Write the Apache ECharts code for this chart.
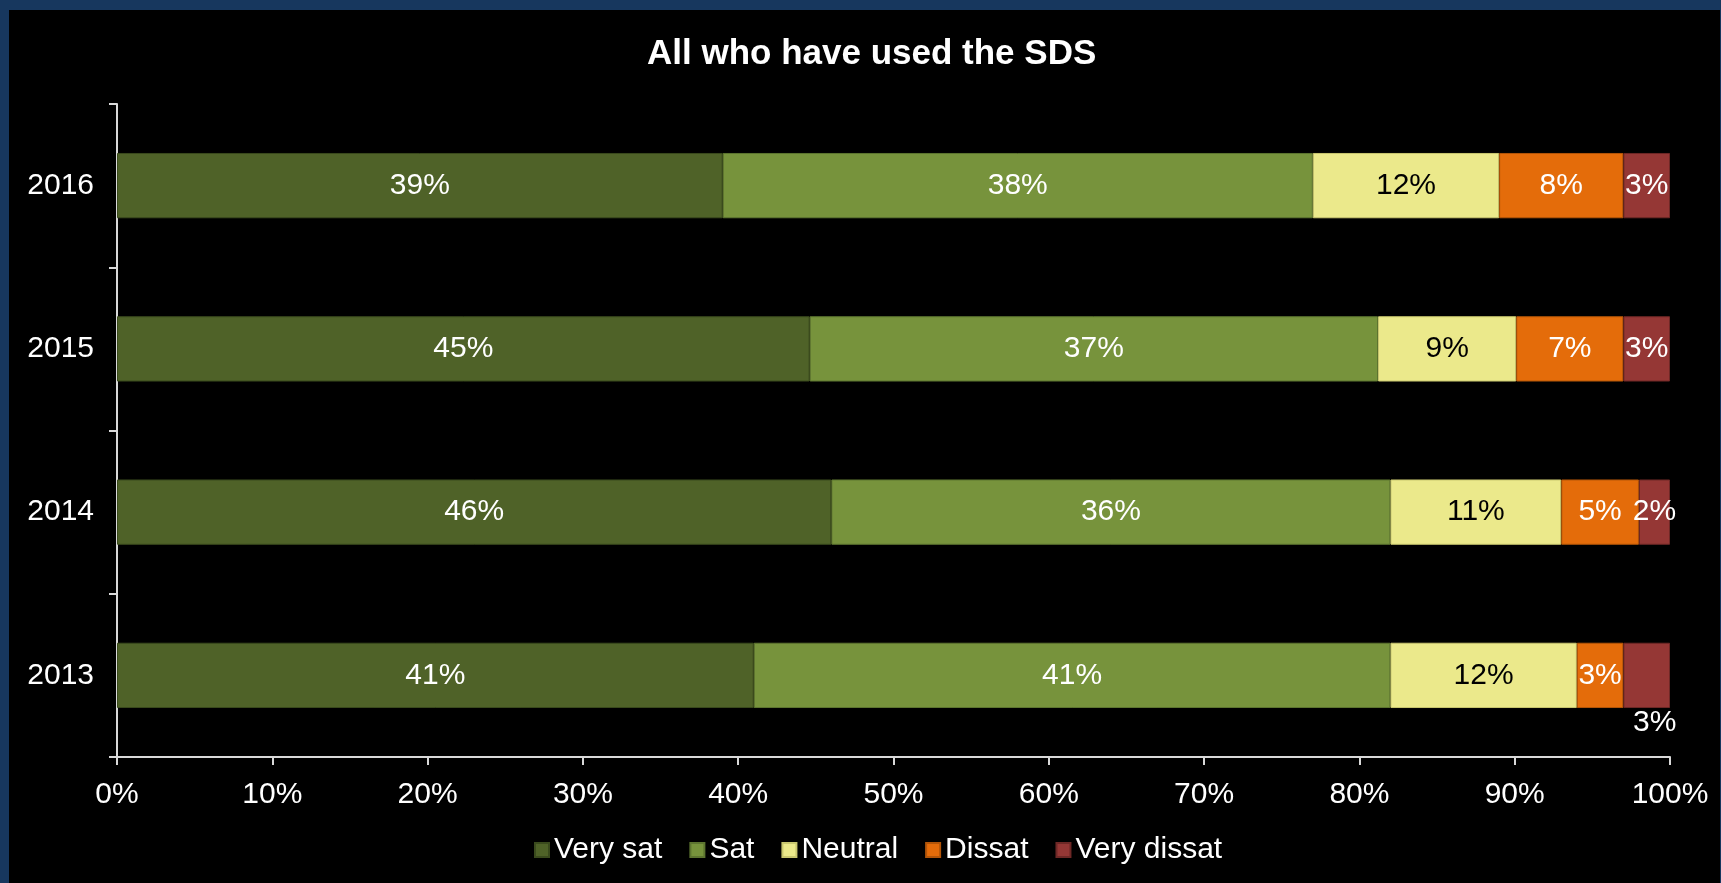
<!DOCTYPE html>
<html>
<head>
<meta charset="utf-8">
<title>All who have used the SDS</title>
<script src="https://cdn.jsdelivr.net/npm/echarts@6/dist/echarts.min.js"></script>
<style>
  html, body { margin: 0; padding: 0; width: 1721px; height: 883px; overflow: hidden; background: #17375e; }
  #chart { position: absolute; left: 9px; top: 10px; width: 1711px; height: 873px; background: #000; }
</style>
</head>
<body>
<div id="chart"></div>
<script>
// Survey years (bottom to top on the category axis)
const years = ['2013', '2014', '2015', '2016'];

// Share of respondents per rating, in percent, one value per year
const verySat   = [41.0, 46.0, 44.6, 39.0];
const sat       = [41.0, 36.0, 36.6, 38.0];
const neutral   = [12.0, 11.0, 8.9, 12.0];
const dissat    = [3.0, 5.0, 6.9, 8.0];
const veryDissat = [3.0, 2.0, 3.0, 3.0];

const seriesNames = ['Very sat', 'Sat', 'Neutral', 'Dissat', 'Very dissat'];
const xTicks = [0, 10, 20, 30, 40, 50, 60, 70, 80, 90, 100];

const FONT = '"Liberation Sans", Arial, sans-serif';
const FS = 30;

const palette = {
  'Very sat':    { fill: '#4f6228', edge: '#3a4a1d', text: '#ffffff' },
  'Sat':         { fill: '#77933c', edge: '#5d7530', text: '#ffffff' },
  'Neutral':     { fill: '#ebe98b', edge: '#c9c76f', text: '#000000' },
  'Dissat':      { fill: '#e46c0a', edge: '#b35508', text: '#ffffff' },
  'Very dissat': { fill: '#953735', edge: '#6e2826', text: '#ffffff' }
};

const values = [verySat, sat, neutral, dissat, veryDissat];

function makeSeries(name, data) {
  const c = palette[name];
  return {
    name: name,
    type: 'bar',
    stack: 'total',
    barWidth: '40%',
    itemStyle: { color: c.fill, borderColor: c.edge, borderWidth: 1 },
    label: {
      show: true,
      position: 'inside',
      color: c.text,
      fontFamily: FONT,
      fontSize: FS,
      formatter: p => Math.round(p.value) + '%'
    },
    data: data.map((v, i) => {
      // The thin 2013 "Very dissat" segment carries its label underneath
      if (name === 'Very dissat' && years[i] === '2013') {
        return { value: v, label: { position: 'bottom', distance: 0, offset: [8, 0], color: '#ffffff' } };
      }
      return v;
    })
  };
}

const chart = echarts.init(document.getElementById('chart'), null, { renderer: 'canvas' });

chart.setOption({
  backgroundColor: '#000000',
  animation: false,
  title: {
    text: 'All who have used the SDS',
    left: 633,
    top: 22,
    textStyle: { color: '#ffffff', fontFamily: FONT, fontWeight: 'bold', fontSize: 35 }
  },
  legend: {
    data: seriesNames,
    left: 520,
    top: 820,
    itemWidth: 14,
    itemHeight: 14,
    itemGap: 27,
    icon: 'rect',
    textStyle: { color: '#ffffff', fontFamily: FONT, fontSize: FS }
  },
  grid: { left: 108, right: 50, top: 94, bottom: 126, containLabel: false },
  xAxis: {
    type: 'value',
    min: xTicks[0],
    max: xTicks[xTicks.length - 1],
    interval: xTicks[1] - xTicks[0],
    axisLine: { show: true, lineStyle: { color: '#d9d9d9', width: 2 } },
    axisTick: { show: true, length: 8, lineStyle: { color: '#d9d9d9', width: 2 } },
    splitLine: { show: false },
    axisLabel: { color: '#ffffff', fontFamily: FONT, fontSize: FS, margin: 23, formatter: '{value}%' }
  },
  yAxis: {
    type: 'category',
    data: years,
    axisLine: { show: true, lineStyle: { color: '#d9d9d9', width: 2 } },
    axisTick: { show: true, length: 8, lineStyle: { color: '#d9d9d9', width: 2 } },
    axisLabel: { color: '#ffffff', fontFamily: FONT, fontSize: FS, margin: 23 }
  },
  series: seriesNames.map((n, i) => makeSeries(n, values[i]))
});
</script>
</body>
</html>
